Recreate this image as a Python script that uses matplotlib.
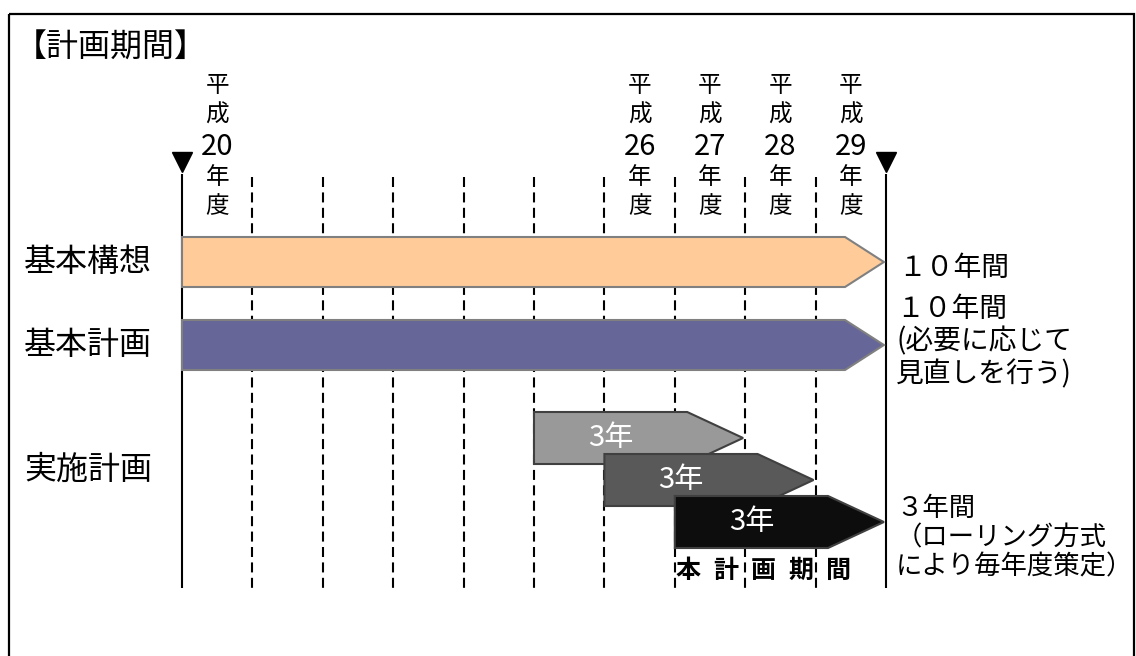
import matplotlib
matplotlib.use('Agg')
import matplotlib.pyplot as plt
from matplotlib.patches import Polygon, Rectangle

plt.rcParams['font.family'] = ['Noto Sans CJK JP', 'DejaVu Sans']

# --- data ---
first_year = 20           # 平成20年度
n_years = 10              # 10 fiscal years
label_years = [20, 26, 27, 28, 29]

long_plans = ['基本構想', '基本計画']
long_start = [20, 20]
long_end = [30, 30]
long_colors = ['#FFCC99', '#666699']
long_notes = ['１０年間', '１０年間\n(必要に応じて\n見直しを行う)']

roll_plan = '実施計画'
roll_start = [25, 26, 27]
roll_len = [3, 3, 3]
roll_labels = ['3年', '3年', '3年']
roll_colors = ['#999999', '#595959', '#0D0D0D']
roll_note = '３年間\n（ローリング方式\nにより毎年度策定）'
period_label = ['本', '計', '画', '期', '間']

# --- layout (pixels, x mapped to years) ---
W, H = 1136, 656
X0, PX_YEAR = 182, 70.4


def px(x):
    return first_year + (x - X0) / PX_YEAR


fig = plt.figure(figsize=(W / 100, H / 100), dpi=100)
ax = fig.add_axes([0, 0, 1, 1])
ax.set_xlim(px(0), px(W))
ax.set_ylim(H, 0)
ax.axis('off')

# outer frame
ax.add_patch(Rectangle((px(9), 14), px(1134) - px(9), 700, fill=False,
                       edgecolor='black', linewidth=1.6, zorder=1))
ax.text(px(15), 48, '【計画期間】', fontsize=23, va='center', ha='left')

# year grid
line_top, line_bot = 174, 588
ax.vlines([first_year, first_year + n_years], line_top, line_bot,
          colors='black', linewidth=1.5, zorder=2)
ax.vlines(list(range(first_year + 1, first_year + n_years)), 177, line_bot,
          colors='black', linewidth=1.5, linestyles=(0, (4.8, 2.6)), zorder=2)
ax.plot([first_year, first_year + n_years], [162, 162], linestyle='none',
        marker='v', markersize=14, color='black', zorder=3)

# year labels, stacked vertically
rows_y = [85, 115, 147, 178, 207]
for yr in label_years:
    parts = ['平', '成', str(yr), '年', '度']
    for part, yy in zip(parts, rows_y):
        ax.text(yr + 0.5, yy, part, fontsize=17 if len(part) == 1 else 21,
                ha='center', va='center', zorder=4)


def arrow(start, end, yc, half, tip, color, edge):
    body = end - tip
    pts = [(start, yc - half), (body, yc - half), (end - 0.03, yc),
           (body, yc + half), (start, yc + half)]
    ax.add_patch(Polygon(pts, closed=True, facecolor=color, edgecolor=edge,
                         linewidth=1.5, zorder=5))
    return (start + body) / 2


# long-term plans
long_y = [262, 345]
for name, s, e, c, yc in zip(long_plans, long_start, long_end,
                             long_colors, long_y):
    arrow(s, e, yc, 25, 41 / PX_YEAR, c, '#808080')
    ax.text(px(24), yc, name, fontsize=23, ha='left', va='center')

ax.text(px(898), 268, long_notes[0], fontsize=20, ha='left', va='center')
ax.text(px(896), 294, long_notes[1], fontsize=20, ha='left', va='top',
        linespacing=1.12)

# rolling implementation plans
roll_y = [438, 480, 522]
for s, n, lab, c, yc in zip(roll_start, roll_len, roll_labels, roll_colors,
                            roll_y):
    cx = arrow(s, s + n, yc, 26, 58 / PX_YEAR, c, '#404040')
    ax.text(cx, yc, lab, fontsize=21, color='white', ha='center',
            va='center', zorder=6)

ax.text(px(24), 470, roll_plan, fontsize=23, ha='left', va='center')
ax.text(px(896), 495, roll_note, fontsize=19, ha='left', va='top',
        linespacing=1.1)

for i, ch in enumerate(period_label):
    ax.text(px(688) + i * 37.5 / PX_YEAR, 571, ch, fontsize=18,
            fontweight='bold', ha='center', va='center', zorder=4)

fig.savefig('out.png', dpi=100)
